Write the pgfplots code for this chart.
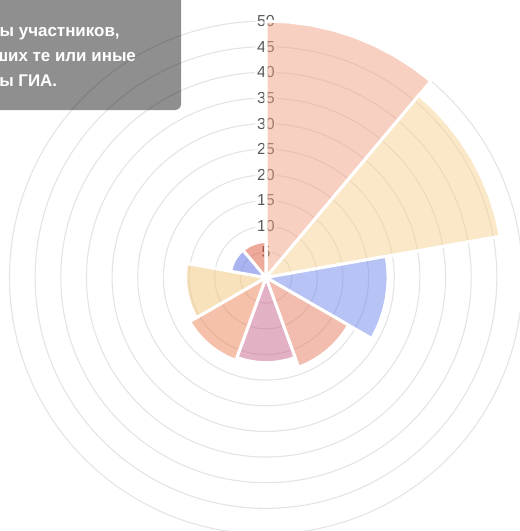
\documentclass[border=0pt]{standalone}
\usepackage{fontspec}
\setmainfont{Liberation Sans}
\usepackage{pgfplots}
\usepgfplotslibrary{polar}
\pgfplotsset{compat=1.18}
\definecolor{s1}{RGB}{241,161,133}
\definecolor{s2}{RGB}{245,209,145}
\definecolor{s3}{RGB}{111,135,233}
\definecolor{s4}{RGB}{229,121,95}
\definecolor{s5}{RGB}{199,99,139}
\definecolor{s6}{RGB}{235,131,85}
\definecolor{s7}{RGB}{241,197,121}
\definecolor{s8}{RGB}{83,105,225}
\definecolor{s9}{RGB}{219,83,53}
\definecolor{ticktext}{RGB}{90,90,90}
\definecolor{ring}{RGB}{228,228,228}
\newlength\pw
\begin{document}
\settowidth{\pw}{\fontsize{17}{20}\selectfont\bfseries Процент}%
\begin{tikzpicture}
\useasboundingbox (0bp,0bp) rectangle (520bp,-531bp);
\clip (0bp,0bp) rectangle (520bp,-531bp);
\begin{polaraxis}[
  at={(266bp,-277.5bp)}, anchor=center,
  scale only axis, width=513bp, height=513bp,
  clip=false,
  ymin=0, ymax=50,
  ytick={5,10,...,50}, yticklabels={},
  xtick=\empty,
  major tick length=0pt,
  ymajorgrids,
  grid style={ring, line width=1.1bp},
  axis line style={draw=none},
  every axis plot/.append style={draw=white, line width=3bp, line join=round, fill opacity=0.5},
]
\pgfplotsinvokeforeach{5,10,...,50}{
  \node[font=\fontsize{16}{18}\selectfont, text=ticktext, fill=white, fill opacity=0.75, text opacity=1, inner xsep=2bp, inner ysep=1bp] at (axis cs:90,#1) {#1};
}
% values, sectors clockwise from the top
\addplot[fill=s1] coordinates {(0,0) (90,50) (85,50) (80,50) (75,50) (70,50) (65,50) (60,50) (55,50) (50,50)} --cycle;
\addplot[fill=s2] coordinates {(0,0) (50,46.4) (45,46.4) (40,46.4) (35,46.4) (30,46.4) (25,46.4) (20,46.4) (15,46.4) (10,46.4)} --cycle;
\addplot[fill=s3] coordinates {(0,0) (10,23.8) (5,23.8) (0,23.8) (-5,23.8) (-10,23.8) (-15,23.8) (-20,23.8) (-25,23.8) (-30,23.8)} --cycle;
\addplot[fill=s4] coordinates {(0,0) (-30,18.6) (-35,18.6) (-40,18.6) (-45,18.6) (-50,18.6) (-55,18.6) (-60,18.6) (-65,18.6) (-70,18.6)} --cycle;
\addplot[fill=s5] coordinates {(0,0) (-70,16.6) (-75,16.6) (-80,16.6) (-85,16.6) (-90,16.6) (-95,16.6) (-100,16.6) (-105,16.6) (-110,16.6)} --cycle;
\addplot[fill=s6] coordinates {(0,0) (-110,17.2) (-115,17.2) (-120,17.2) (-125,17.2) (-130,17.2) (-135,17.2) (-140,17.2) (-145,17.2) (-150,17.2)} --cycle;
\addplot[fill=s7] coordinates {(0,0) (-150,15.7) (-155,15.7) (-160,15.7) (-165,15.7) (-170,15.7) (-175,15.7) (-180,15.7) (-185,15.7) (-190,15.7)} --cycle;
\addplot[fill=s8] coordinates {(0,0) (-190,7) (-195,7) (-200,7) (-205,7) (-210,7) (-215,7) (-220,7) (-225,7) (-230,7)} --cycle;
\addplot[fill=s9] coordinates {(0,0) (-230,7) (-235,7) (-240,7) (-245,7) (-250,7) (-255,7) (-260,7) (-265,7) (-270,7)} --cycle;
\end{polaraxis}
\fill[black, fill opacity=0.44, rounded corners=6bp] (-40bp,8bp) rectangle (181bp,-110bp);
\begin{scope}[every node/.style={anchor=base west, inner sep=0pt, text=white, font=\fontsize{17}{20}\selectfont\bfseries}]
\node at (-\pw-0.5bp,-36.5bp) {Проценты участников,};
\node at (-\pw-0.5bp,-61.5bp) {выбравших те или иные};
\node at (-\pw-0.5bp,-86.5bp) {предметы ГИА.};
\end{scope}
\end{tikzpicture}
\end{document}
